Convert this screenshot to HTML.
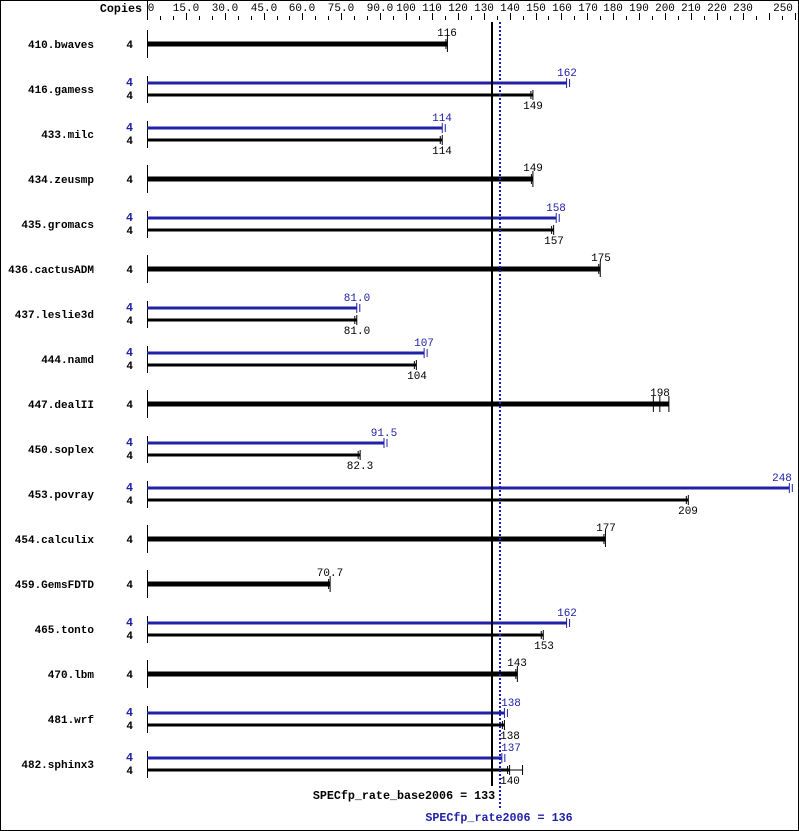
<!DOCTYPE html>
<html><head><meta charset="utf-8"><style>
body{margin:0;background:#fff}
svg{display:block}
text{font-family:"Liberation Mono","DejaVu Sans Mono",monospace;font-size:11px}
.n{font-weight:bold;text-anchor:end;font-size:11.7px}
.b{fill:#2121a8}
.c{text-anchor:middle}
</style></head><body>
<svg id="s" width="799" height="831" viewBox="0 0 799 831" xmlns="http://www.w3.org/2000/svg">
<rect x="0.5" y="0.5" width="798" height="830" fill="#fff" stroke="#000"/>
<g id="ticks" stroke="#000" stroke-width="1"></g>
<line x1="147.5" y1="0" x2="147.5" y2="20" stroke="#000"/>
<text x="142" y="12" class="n">Copies</text>
<g class="c">
<text x="151" y="11">0</text><text x="186" y="11">15.0</text><text x="225" y="11">30.0</text><text x="264" y="11">45.0</text><text x="302" y="11">60.0</text><text x="341" y="11">75.0</text><text x="380" y="11">90.0</text><text x="406" y="11">100</text><text x="432" y="11">110</text><text x="458" y="11">120</text><text x="484" y="11">130</text><text x="510" y="11">140</text><text x="536" y="11">150</text><text x="562" y="11">160</text><text x="588" y="11">170</text><text x="613" y="11">180</text><text x="639" y="11">190</text><text x="665" y="11">200</text><text x="691" y="11">210</text><text x="717" y="11">220</text><text x="743" y="11">230</text><text x="783" y="11">250</text>
</g>
<g id="bars" stroke="#000"></g>
<g class="n">
<text x="94" y="48">410.bwaves</text>
<text x="94" y="93">416.gamess</text>
<text x="94" y="138">433.milc</text>
<text x="94" y="183">434.zeusmp</text>
<text x="94" y="228">435.gromacs</text>
<text x="94" y="273">436.cactusADM</text>
<text x="94" y="318">437.leslie3d</text>
<text x="94" y="363">444.namd</text>
<text x="94" y="408">447.dealII</text>
<text x="94" y="453">450.soplex</text>
<text x="94" y="498">453.povray</text>
<text x="94" y="543">454.calculix</text>
<text x="94" y="588">459.GemsFDTD</text>
<text x="94" y="633">465.tonto</text>
<text x="94" y="678">470.lbm</text>
<text x="94" y="723">481.wrf</text>
<text x="94" y="768">482.sphinx3</text>
</g>
<g class="n">
<text x="133" y="48">4</text>
<text x="133" y="86" class="b n">4</text><text x="133" y="99">4</text>
<text x="133" y="131" class="b n">4</text><text x="133" y="144">4</text>
<text x="133" y="183">4</text>
<text x="133" y="221" class="b n">4</text><text x="133" y="234">4</text>
<text x="133" y="273">4</text>
<text x="133" y="311" class="b n">4</text><text x="133" y="324">4</text>
<text x="133" y="356" class="b n">4</text><text x="133" y="369">4</text>
<text x="133" y="408">4</text>
<text x="133" y="446" class="b n">4</text><text x="133" y="459">4</text>
<text x="133" y="491" class="b n">4</text><text x="133" y="504">4</text>
<text x="133" y="543">4</text>
<text x="133" y="588">4</text>
<text x="133" y="626" class="b n">4</text><text x="133" y="639">4</text>
<text x="133" y="678">4</text>
<text x="133" y="716" class="b n">4</text><text x="133" y="729">4</text>
<text x="133" y="761" class="b n">4</text><text x="133" y="774">4</text>
</g>
<g class="c">
<text x="447" y="36">116</text>
<text x="567" y="76" class="b c">162</text><text x="533" y="109">149</text>
<text x="442" y="121" class="b c">114</text><text x="442" y="154">114</text>
<text x="533" y="171">149</text>
<text x="556" y="211" class="b c">158</text><text x="554" y="244">157</text>
<text x="601" y="261">175</text>
<text x="357" y="301" class="b c">81.0</text><text x="357" y="334">81.0</text>
<text x="424" y="346" class="b c">107</text><text x="417" y="379">104</text>
<text x="660" y="396">198</text>
<text x="384" y="436" class="b c">91.5</text><text x="360" y="469">82.3</text>
<text x="782" y="481" class="b c">248</text><text x="688" y="514">209</text>
<text x="606" y="531">177</text>
<text x="330" y="576">70.7</text>
<text x="567" y="616" class="b c">162</text><text x="544" y="649">153</text>
<text x="517" y="666">143</text>
<text x="511" y="706" class="b c">138</text><text x="510" y="739">138</text>
<text x="511" y="751" class="b c">137</text><text x="510" y="784">140</text>
</g>
<line x1="492" y1="22" x2="492" y2="786" stroke="#000" stroke-width="2"/>
<line x1="500" y1="22" x2="500" y2="810" stroke="#2121a8" stroke-width="2" stroke-dasharray="2,2"/>
<text x="404" y="799" style="font-weight:bold;text-anchor:middle;font-size:11.7px">SPECfp_rate_base2006 = 133</text>
<text x="499" y="821" class="b" style="font-weight:bold;text-anchor:middle;font-size:11.7px">SPECfp_rate2006 = 136</text>
</svg>
<script>
var NS="http://www.w3.org/2000/svg";
function f(v){return 147+v*2.59;}
function L(g,x1,y1,x2,y2,c,w){var l=document.createElementNS(NS,"line");l.setAttribute("x1",x1);l.setAttribute("y1",y1);l.setAttribute("x2",x2);l.setAttribute("y2",y2);l.setAttribute("stroke",c);l.setAttribute("stroke-width",w);g.appendChild(l);}
var t=document.getElementById("ticks");
for(var v=0;v<=250;v+=5){var x=Math.round(f(v))+0.5;var long=v<100?(v%15==0):(v%10==0);L(t,x,long?13:16,x,20,"#000",1);}
var g=document.getElementById("bars");
var B="#2121a8";
var rows=[[116],[162,149],[114,114],[149],[158,157],[175],[81,81],[107,104],[198],[91.5,82.3],[248,209],[177],[70.7],[162,153],[143],[138,138],[137,140]];
rows.forEach(function(r,i){
 var c=44+45*i;
 if(r.length==1){
  L(g,147.5,c-14,147.5,c+14,"#000",1);
  var x=f(r[0]);L(g,147,c,x,c,"#000",5);L(g,x,c-8,x,c+8,"#000",1);
  if(i==8){L(g,f(195.5),c-8,f(195.5),c+8,"#000",1);L(g,f(201.5),c-8,f(201.5),c+8,"#000",1);L(g,x,c,f(201.5),c,"#000",5);}
  else{L(g,x-1.5,c-5,x-1.5,c+5,"#000",1);}
 } else {
  L(g,147.5,c-13,147.5,c+14,"#000",1);
  var xb=f(r[0]),yb=c-6;L(g,147,yb,xb,yb,B,3);L(g,xb,yb-5,xb,yb+5,B,1);L(g,xb+3,yb-4,xb+3,yb+4,B,1);
  var xk=f(r[1]),yk=c+6;L(g,147,yk,xk,yk,"#000",3);L(g,xk,yk-5,xk,yk+5,"#000",1);L(g,xk-2,yk-4,xk-2,yk+4,"#000",1);
  if(i==16){L(g,xk,yk,f(145),yk,"#000",1);L(g,f(145),yk-5,f(145),yk+5,"#000",1);}
 }
});
</script>
</body></html>
